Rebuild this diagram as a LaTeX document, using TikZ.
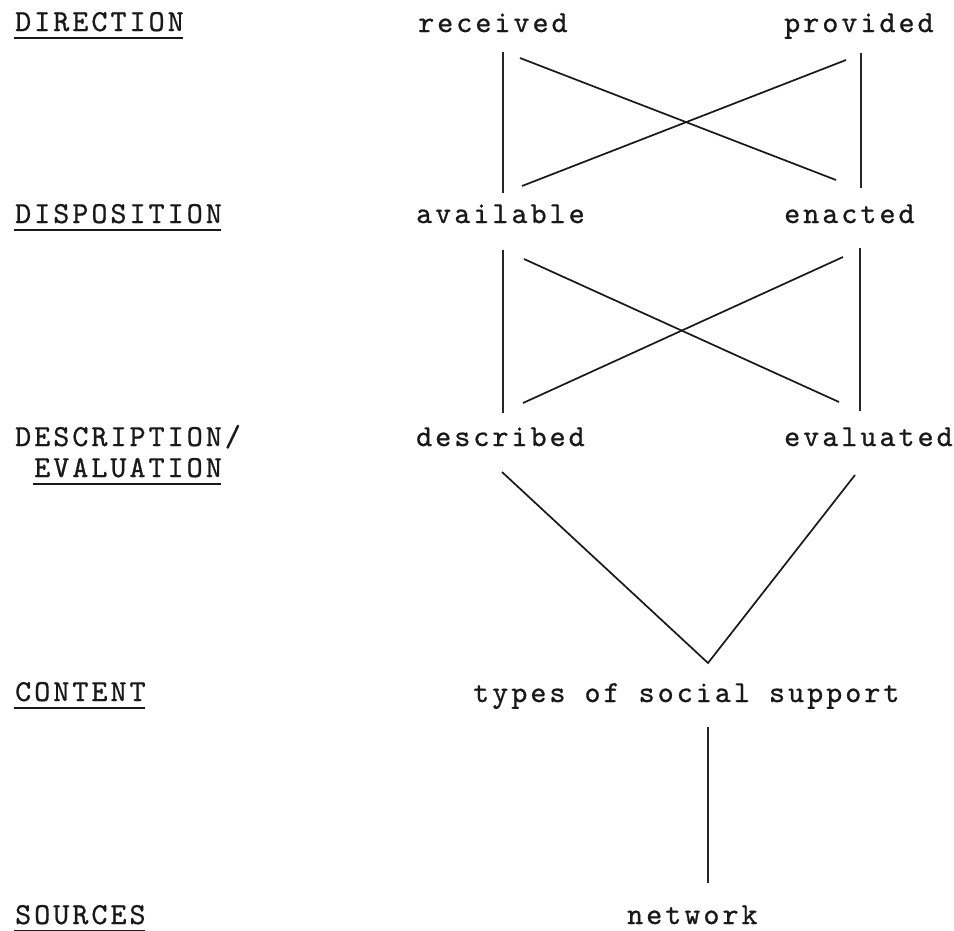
\documentclass[tikz,border=0pt]{standalone}
\usepackage{fontspec}
\newfontfamily\tw{lmmono10-regular.otf}[LetterSpace=10.0, FakeBold=0.8]
\usetikzlibrary{calc}
\begin{document}
\begin{tikzpicture}[x=1pt,y=-1pt,
  lbl/.style={inner sep=0pt, anchor=base west, text=black!90, font=\tw\fontsize{30.5}{35}\selectfont},
  vline/.style={line width=1.1pt, draw=black!85},
  diag/.style={line width=1.7pt, draw=black!90},
  uline/.style={line width=2pt, draw=black!90}]
\useasboundingbox[fill=white] (0,0) rectangle (954,930);

% left-hand category labels
\node[lbl] (direction)   at (15,31)  {DIRECTION};
\node[lbl] (disposition) at (15,223) {DISPOSITION};
\node[lbl] (description) at (15,446) {DESCRIPTION/};
\node[lbl] (evaluation)  at (34,477) {EVALUATION};
\node[lbl] (content)     at (15,701) {CONTENT};
\node[lbl] (sources)     at (15,924) {SOURCES};

\foreach \n in {direction,disposition,evaluation,content,sources}
  \draw[uline] ($(\n.base west)+(-1,7)$) -- ($(\n.base east)+(-1,7)$);

% diagram terms
\node[lbl] (received)  at (418,32)  {received};
\node[lbl] (provided)  at (784,32)  {provided};
\node[lbl] (available) at (416,223) {available};
\node[lbl] (enacted)   at (784,223) {enacted};
\node[lbl] (described) at (416,446) {described};
\node[lbl] (evaluated) at (784,446) {evaluated};
\node[lbl] (types)     at (473,702) {types of social support};
\node[lbl] (network)   at (627,924) {network};

% connector end points
\coordinate (r-s)  at (503,52);   \coordinate (a-n)  at (503,193);
\coordinate (p-s)  at (861,53);   \coordinate (e-n)  at (861,188);
\coordinate (r-se) at (520,58);   \coordinate (e-nw) at (836,180);
\coordinate (p-sw) at (846,60);   \coordinate (a-ne) at (522,186);

\coordinate (a-s)  at (503,250);  \coordinate (d-n)  at (503,413);
\coordinate (e-s)  at (860,248);  \coordinate (v-n)  at (860,411);
\coordinate (a-se) at (524,259);  \coordinate (v-nw) at (839,402);
\coordinate (e-sw) at (843,257);  \coordinate (d-ne) at (523,403);

\coordinate (d-s)  at (502,472);  \coordinate (v-s)  at (855,475);
\coordinate (t-n)  at (708,663);
\coordinate (t-s)  at (708,727);  \coordinate (n-n)  at (708,883);

% received/provided -- available/enacted
\draw[vline] (r-s) -- (a-n);
\draw[vline] (p-s) -- (e-n);
\draw[diag] (r-se) -- (e-nw);
\draw[diag] (p-sw) -- (a-ne);

% available/enacted -- described/evaluated
\draw[vline] (a-s) -- (d-n);
\draw[vline] (e-s) -- (v-n);
\draw[diag] (a-se) -- (v-nw);
\draw[diag] (e-sw) -- (d-ne);

% described/evaluated -- types of social support
\draw[diag, line join=miter] (d-s) -- (t-n) -- (v-s);

% types of social support -- network
\draw[vline] (t-s) -- (n-n);
\end{tikzpicture}
\end{document}
